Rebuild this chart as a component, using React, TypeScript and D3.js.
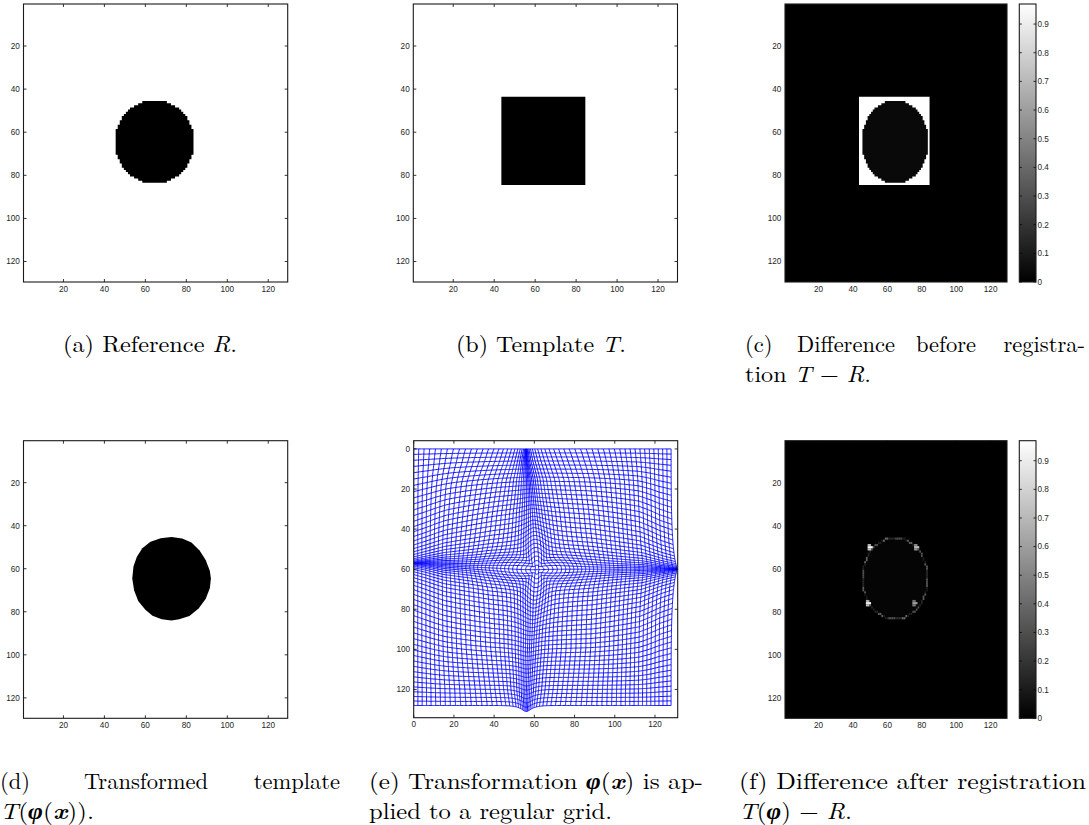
import React from 'react';
import * as d3 from 'd3';

const W = 1089;
const H = 825;

// ---------- data ----------
const imageSize = 129; // pixels per side of every image
const imageTicks = [20, 40, 60, 80, 100, 120];
const gridTicks = [0, 20, 40, 60, 80, 100, 120];
const colorbarTicks = [0, 0.1, 0.2, 0.3, 0.4, 0.5, 0.6, 0.7, 0.8, 0.9];
const colorbarMax = 0.97;

// reference R: disc
const discCentre = [64.5, 64.5];
const discRadius = 19.4;
// template T: square (pixel index range, inclusive)
const squareCols = [44, 84];
const squareRows = [44, 84];
// value of T-R inside the disc in (c)
const discValueC = 0.035;
// value inside the disc in (f)
const discValueF = 0.02;

// transformed template T(phi(x)): outline vertices (x, y)
const warpedX = [72.8, 78, 82.5, 86.5, 89.5, 91.5, 92, 91.5, 89.5, 86, 81.5, 76.5, 72.8, 68, 63.5, 60, 56.5, 54.5, 53.6, 54.2, 55.8, 58.5, 62.5, 67.5];
const warpedY = [45.3, 45.9, 47.8, 51.5, 56, 61, 64.5, 69, 74, 78.5, 82, 83.5, 84, 83.5, 81.8, 79, 75, 70, 64.5, 59, 54.5, 50.5, 47.5, 45.8];

// residual after registration: level of the rim per angular sector (clockwise from east)
const rimLevels = [0.34, 0.1, 0.36, 0.14, 0.3, 0.12, 0.4, 0.18, 0.3, 0.12, 0.36, 0.14, 0.32, 0.1, 0.36, 0.16,
  0.3, 0.12, 0.38, 0.14, 0.3, 0.12, 0.4, 0.14, 0.28, 0.12, 0.36, 0.14, 0.32, 0.1, 0.36, 0.16];
// bright residual spots (x, y, value)
const spotX = [49.5, 76.5, 48.5, 76];
const spotY = [50.3, 49.7, 76, 75.7];
const spotV = [0.95, 0.72, 0.92, 0.6];

// deformation of the regular grid, estimated from panel (e)
const gridStep = 2;
const gridMax = 128;
// vertical contraction band: strength, centre and width along y
const vBandY = [0, 6, 15, 30, 50, 60, 75, 100, 120, 128];
const vBandK = [0.96, 0.86, 0.7, 0.56, 0.5, 0.42, 0.5, 0.52, 0.62, 0.72];
const vBandC = [56, 56, 57, 58, 60, 61, 59, 57, 56, 56];
const vBandS = [22, 21, 19, 17, 14, 13, 15, 16, 18, 18];
// horizontal contraction band: strength, centre and width along x
const hBandX = [0, 6, 15, 35, 60, 90, 112, 122, 128];
const hBandK = [0.96, 0.86, 0.7, 0.52, 0.42, 0.5, 0.66, 0.85, 0.95];
const hBandC = [57, 57, 57.5, 58.5, 60, 60, 60, 60, 60];
const hBandS = [24, 23, 21, 17, 13, 16, 20, 23, 24];
// distance over which the displacement fades out towards the grid border
const borderFade = [10];
// bulges of the right edge and the bottom edge: amount, centre, width
const rightBulge = [3.3, 60, 24];
const bottomBulge = [3, 56, 10];
// outward push around the centre (strength, centre x, centre y, radius), stronger along the axes
const centrePush = [0.55, 61, 60, 13];

// ---------- layout ----------
const rows = [
  [4, 282],
  [440.7, 718.3],
];
const colA = [23.5, 287.7];
const colB = [413.3, 677.5];
const colC = [785, 1007];
const colBar = [1019.3, 1036];

const axisFont = "'Liberation Sans', Arial, Helvetica, sans-serif";
const serif = "'Latin Modern Roman', 'CMU Serif', 'Liberation Serif', 'Times New Roman', serif";

const grey = d3.scaleLinear<string>().domain([0, colorbarMax]).range(['#000000', '#ffffff']).clamp(true);

type Run = { j: number; i0: number; i1: number; v: number };

function maskRuns(mask: (i: number, j: number) => boolean, v: number): Run[] {
  const out: Run[] = [];
  for (let j = 1; j <= imageSize; j++) {
    let start = -1;
    for (let i = 1; i <= imageSize + 1; i++) {
      const m = i <= imageSize && mask(i, j);
      if (m && start < 0) start = i;
      if (!m && start >= 0) {
        out.push({ j, i0: start, i1: i - 1, v });
        start = -1;
      }
    }
  }
  return out;
}

const inDisc = (i: number, j: number) =>
  (i - discCentre[0]) ** 2 + (j - discCentre[1]) ** 2 <= discRadius * discRadius;
const inSquare = (i: number, j: number) =>
  i >= squareCols[0] && i <= squareCols[1] && j >= squareRows[0] && j <= squareRows[1];

// one path for a uniformly coloured mask (no seams between rows)
function MaskPath({ runs, xs, ys, color }: { runs: Run[]; xs: any; ys: any; color: string }) {
  const p = d3.path();
  runs.forEach((r) => {
    p.rect(xs(r.i0 - 0.5), ys(r.j - 0.5), xs(r.i1 + 0.5) - xs(r.i0 - 0.5), ys(r.j + 0.5) - ys(r.j - 0.5));
  });
  return <path d={p.toString()} fill={color} />;
}

function Pixels({ runs, xs, ys }: { runs: Run[]; xs: any; ys: any }) {
  return (
    <g>
      {runs.map((r, k) => (
        <rect
          key={k}
          x={xs(r.i0 - 0.5)}
          y={ys(r.j - 0.5)}
          width={xs(r.i1 + 0.5) - xs(r.i0 - 0.5)}
          height={ys(r.j + 0.5) - ys(r.j - 0.5)}
          fill={grey(r.v)}
        />
      ))}
    </g>
  );
}

function Axes({ xs, ys, xt, yt, tickLen = 3 }: any) {
  const [x0, x1] = xs.range();
  const [y0, y1] = ys.range();
  return (
    <g>
      {xt.map((t: number) => (
        <g key={'xt' + t} stroke="#000" strokeWidth={0.8}>
          <line x1={xs(t)} x2={xs(t)} y1={y1} y2={y1 - tickLen} />
          <line x1={xs(t)} x2={xs(t)} y1={y0} y2={y0 + tickLen} />
        </g>
      ))}
      {yt.map((t: number) => (
        <g key={'yt' + t} stroke="#000" strokeWidth={0.8}>
          <line y1={ys(t)} y2={ys(t)} x1={x0} x2={x0 + tickLen} />
          <line y1={ys(t)} y2={ys(t)} x1={x1} x2={x1 - tickLen} />
        </g>
      ))}
      <rect x={x0} y={y0} width={x1 - x0} height={y1 - y0} fill="none" stroke="#1a1a1a" strokeWidth={1.1} />
      {xt.map((t: number) => (
        <text key={'xl' + t} x={xs(t)} y={y1 + 9.6} textAnchor="middle" fontSize={8.2} fill="#262626" fontFamily={axisFont}>
          {t}
        </text>
      ))}
      {yt.map((t: number) => (
        <text key={'yl' + t} x={x0 - 3.6} y={ys(t) + 2.9} textAnchor="end" fontSize={8.2} fill="#262626" fontFamily={axisFont}>
          {t}
        </text>
      ))}
    </g>
  );
}

function Colorbar({ row, id }: { row: number[]; id: string }) {
  const cs = d3.scaleLinear().domain([0, colorbarMax]).range([row[1], row[0]]);
  const [x0, x1] = colBar;
  return (
    <g>
      <defs>
        <linearGradient id={id} x1="0" y1="1" x2="0" y2="0">
          <stop offset="0" stopColor={grey(0)} />
          <stop offset="1" stopColor={grey(colorbarMax)} />
        </linearGradient>
      </defs>
      <rect x={x0} y={row[0]} width={x1 - x0} height={row[1] - row[0]} fill={`url(#${id})`} />
      {colorbarTicks.map((t) => (
        <g key={t} stroke="#000" strokeWidth={0.8}>
          <line x1={x0} x2={x0 + 2.5} y1={cs(t)} y2={cs(t)} />
          <line x1={x1} x2={x1 - 2.5} y1={cs(t)} y2={cs(t)} />
        </g>
      ))}
      <rect x={x0} y={row[0]} width={x1 - x0} height={row[1] - row[0]} fill="none" stroke="#1a1a1a" strokeWidth={1.1} />
      {colorbarTicks.map((t) => (
        <text key={'l' + t} x={x1 + 1.5} y={cs(t) + 2.9} fontSize={8.2} fill="#262626" fontFamily={axisFont}>
          {t === 0 ? '0' : t.toFixed(1)}
        </text>
      ))}
    </g>
  );
}

function imageScales(col: number[], row: number[]) {
  const xs = d3.scaleLinear().domain([0.5, imageSize + 0.5]).range(col);
  const ys = d3.scaleLinear().domain([0.5, imageSize + 0.5]).range(row);
  return { xs, ys };
}

// deformation phi applied to the regular grid
const vK = d3.scaleLinear().domain(vBandY).range(vBandK).clamp(true);
const vC = d3.scaleLinear().domain(vBandY).range(vBandC).clamp(true);
const vS = d3.scaleLinear().domain(vBandY).range(vBandS).clamp(true);
const hK = d3.scaleLinear().domain(hBandX).range(hBandK).clamp(true);
const hC = d3.scaleLinear().domain(hBandX).range(hBandC).clamp(true);
const hS = d3.scaleLinear().domain(hBandX).range(hBandS).clamp(true);
const fade = (t: number) => Math.tanh(t / borderFade[0]) * Math.tanh((gridMax - t) / borderFade[0]);

function phi(x: number, y: number): [number, number] {
  const cv = vC(y);
  const dx = x - cv;
  const sv = vS(y);
  const ux = -dx * vK(y) * Math.exp(-(dx * dx) / (2 * sv * sv));
  const ch = hC(x);
  const dy = y - ch;
  const sh = hS(x);
  const uy = -dy * hK(x) * Math.exp(-(dy * dy) / (2 * sh * sh));
  let nx = x + ux * fade(x);
  let ny = y + uy * fade(y);
  nx += rightBulge[0] * Math.pow(x / gridMax, 3) * Math.exp(-(((y - rightBulge[1]) / rightBulge[2]) ** 2));
  ny += bottomBulge[0] * Math.pow(y / gridMax, 3) * Math.exp(-(((x - bottomBulge[1]) / bottomBulge[2]) ** 2));
  // outward push around the centre
  const px = x - centrePush[1];
  const py = y - centrePush[2];
  const r2 = px * px + py * py;
  const th = Math.atan2(py, px);
  const w = 0.3 + 0.7 * Math.cos(2 * th) ** 2;
  const f = centrePush[0] * w * Math.exp(-r2 / (2 * centrePush[3] * centrePush[3]));
  nx += px * f;
  ny += py * f;
  return [nx, ny];
}

export default function App() {
  const A1 = imageScales(colA, rows[0]);
  const B1 = imageScales(colB, rows[0]);
  const C1 = imageScales(colC, rows[0]);
  const D2 = imageScales(colA, rows[1]);
  const F2 = imageScales(colC, rows[1]);

  const discRuns = maskRuns(inDisc, 0);
  const squareRuns = maskRuns(inSquare, 0);

  // rim pixels of the disc for (f)
  const rim: Run[] = [];
  for (let j = 1; j <= imageSize; j++) {
    for (let i = 1; i <= imageSize; i++) {
      if (!inDisc(i, j)) continue;
      if (inDisc(i - 1, j) && inDisc(i + 1, j) && inDisc(i, j - 1) && inDisc(i, j + 1)) continue;
      const ang = Math.atan2(j - discCentre[1], i - discCentre[0]);
      const sec = Math.floor(((ang + 2 * Math.PI) % (2 * Math.PI)) / (2 * Math.PI) * rimLevels.length) % rimLevels.length;
      rim.push({ j, i0: i, i1: i, v: rimLevels[sec] });
    }
  }
  const spots: Run[] = [];
  spotX.forEach((sx, k) => {
    const i = Math.round(sx);
    const j = Math.round(spotY[k]);
    spots.push({ j: j - 1, i0: i - 1, i1: i, v: spotV[k] * 0.7 });
    spots.push({ j, i0: i - 1, i1: i + 1, v: spotV[k] });
    spots.push({ j: j + 1, i0: i - 1, i1: i, v: spotV[k] * 0.8 });
  });

  // panel (e)
  const ex = d3.scaleLinear().domain([0, 131.3]).range([413.7, 677.7]);
  const ey = d3.scaleLinear().domain([-4.1, 134.1]).range([440.7, 717.7]);
  const nodes = d3.range(0, gridMax + 0.001, gridStep);
  const samples = d3.range(0, gridMax + 0.001, 0.5);
  const line = d3
    .line<[number, number]>()
    .x((p) => ex(p[0]))
    .y((p) => ey(p[1]));
  const gridPaths: string[] = [];
  nodes.forEach((g) => {
    gridPaths.push(line(samples.map((s) => phi(s, g))) as string);
    gridPaths.push(line(samples.map((s) => phi(g, s))) as string);
  });

  const dPoly = d3
    .line<number>()
    .x((_, k) => D2.xs(warpedX[k]))
    .y((_, k) => D2.ys(warpedY[k]))
    .curve(d3.curveLinearClosed)(warpedX);

  const it = { fontStyle: 'italic' } as const;
  const bi = { fontStyle: 'italic', fontWeight: 'bold' } as const;
  const cap = { fontFamily: serif, fontSize: 22.5, fill: '#000' } as any;
  const capJ = { ...cap, lengthAdjust: 'spacingAndGlyphs' } as any;
  const L1 = [352, 789];
  const L2 = [382, 819];

  return (
    <svg width={W} height={H} style={{ position: 'absolute', left: 0, top: 0, background: '#fff' }}>
      <rect width={W} height={H} fill="#fff" />

      {/* (a) reference */}
      <MaskPath runs={discRuns} xs={A1.xs} ys={A1.ys} color="#000" />
      <Axes xs={A1.xs} ys={A1.ys} xt={imageTicks} yt={imageTicks} />

      {/* (b) template */}
      <MaskPath runs={squareRuns} xs={B1.xs} ys={B1.ys} color="#000" />
      <Axes xs={B1.xs} ys={B1.ys} xt={imageTicks} yt={imageTicks} />

      {/* (c) difference before */}
      <rect x={colC[0]} y={rows[0][0]} width={colC[1] - colC[0]} height={rows[0][1] - rows[0][0]} fill="#000" />
      <MaskPath runs={squareRuns} xs={C1.xs} ys={C1.ys} color={grey(colorbarMax)} />
      <MaskPath runs={discRuns} xs={C1.xs} ys={C1.ys} color={grey(discValueC)} />
      <Axes xs={C1.xs} ys={C1.ys} xt={imageTicks} yt={imageTicks} />
      <Colorbar row={rows[0]} id="cb1" />

      {/* (d) transformed template */}
      <path d={dPoly as string} fill="#000" />
      <Axes xs={D2.xs} ys={D2.ys} xt={imageTicks} yt={imageTicks} />

      {/* (e) deformed grid */}
      <defs>
        <clipPath id="eclip">
          <rect x={413.7} y={440.7} width={264} height={277} />
        </clipPath>
      </defs>
      <g clipPath="url(#eclip)" fill="none" stroke="#0000ff" strokeWidth={0.9}>
        {gridPaths.map((d, k) => (
          <path key={k} d={d} />
        ))}
      </g>
      <Axes xs={ex} ys={ey} xt={gridTicks} yt={gridTicks} />

      {/* (f) difference after */}
      <rect x={colC[0]} y={rows[1][0]} width={colC[1] - colC[0]} height={rows[1][1] - rows[1][0]} fill="#000" />
      <MaskPath runs={discRuns} xs={F2.xs} ys={F2.ys} color={grey(discValueF)} />
      <Pixels runs={rim} xs={F2.xs} ys={F2.ys} />
      <Pixels runs={spots} xs={F2.xs} ys={F2.ys} />
      <Axes xs={F2.xs} ys={F2.ys} xt={imageTicks} yt={imageTicks} />
      <Colorbar row={rows[1]} id="cb2" />

      {/* captions, row 1 */}
      <text {...capJ} x={63} y={L1[0]} textLength={174}>
        {'(a) Reference '}
        <tspan {...it}>R</tspan>.
      </text>
      <text {...capJ} x={456} y={L1[0]} textLength={170}>
        {'(b) Template '}
        <tspan {...it}>T</tspan>.
      </text>
      <text {...cap} x={745} y={L1[0]}>(c)</text>
      <text {...cap} x={846} y={L1[0]} textAnchor="middle">Difference</text>
      <text {...cap} x={946} y={L1[0]} textAnchor="middle">before</text>
      <text {...cap} x={1085} y={L1[0]} textAnchor="end">registra-</text>
      <text {...capJ} x={745} y={L2[0]} textLength={126}>
        {'tion '}
        <tspan {...it}>T</tspan>
        {' − '}
        <tspan {...it}>R</tspan>.
      </text>

      {/* captions, row 2 */}
      <text {...cap} x={0} y={L1[1]}>(d)</text>
      <text {...cap} x={146} y={L1[1]} textAnchor="middle">Transformed</text>
      <text {...cap} x={340} y={L1[1]} textAnchor="end">template</text>
      <text {...capJ} x={0} y={L2[1]} textLength={94}>
        <tspan {...it}>T</tspan>(<tspan {...bi}>φ</tspan>(<tspan {...bi}>x</tspan>)).
      </text>
      <text {...capJ} x={369} y={L1[1]} textLength={334}>
        {'(e) Transformation '}
        <tspan {...bi}>φ</tspan>(<tspan {...bi}>x</tspan>)
        {' is ap-'}
      </text>
      <text {...capJ} x={369} y={L2[1]} textLength={243}>plied to a regular grid.</text>
      <text {...capJ} x={739} y={L1[1]} textLength={347}>(f) Difference after registration</text>
      <text {...capJ} x={739} y={L2[1]} textLength={113}>
        <tspan {...it}>T</tspan>(<tspan {...bi}>φ</tspan>)
        {' − '}
        <tspan {...it}>R</tspan>.
      </text>
    </svg>
  );
}
